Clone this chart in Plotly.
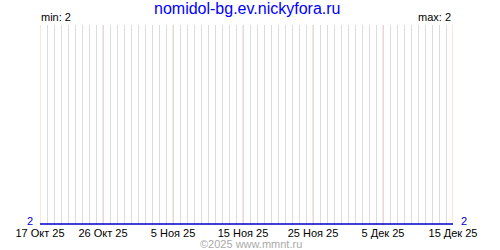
import plotly.graph_objects as go
import pandas as pd

# ---- data ----
dates = pd.date_range("2025-10-17", "2025-12-15", freq="D").strftime("%Y-%m-%d").tolist()
values = [2, 2, 2, 2, 2, 2, 2, 2, 2, 2,
          2, 2, 2, 2, 2, 2, 2, 2, 2, 2,
          2, 2, 2, 2, 2, 2, 2, 2, 2, 2,
          2, 2, 2, 2, 2, 2, 2, 2, 2, 2,
          2, 2, 2, 2, 2, 2, 2, 2, 2, 2,
          2, 2, 2, 2, 2, 2, 2, 2, 2, 2]
tick_dates = ["2025-10-17", "2025-10-26", "2025-11-05", "2025-11-15",
              "2025-11-25", "2025-12-05", "2025-12-15"]
tick_labels = ["17 Окт 25", "26 Окт 25", "5 Ноя 25", "15 Ноя 25",
               "25 Ноя 25", "5 Дек 25", "15 Дек 25"]
title_text = "nomidol-bg.ev.nickyfora.ru"
credit_text = "©2025 www.mmnt.ru"

vmin, vmax = min(values), max(values)

FONT = "Liberation Sans"
PINK = "#ffc8c8"
GRAY = "#dcdcdc"
BLUE = "#0000cc"

fig = go.Figure()
fig.add_trace(go.Scatter(x=dates, y=values, mode="lines",
                         line=dict(color=BLUE, width=1.5),
                         hoverinfo="skip", showlegend=False))

# pink grid lines at the labelled dates (drawn above the daily gray grid)
for d in tick_dates:
    fig.add_shape(type="line", xref="x", yref="paper", x0=d, x1=d, y0=0, y1=1,
                  line=dict(color=PINK, width=1), layer="below")

fig.update_layout(
    width=500, height=250,
    margin=dict(l=40, r=47, t=25, b=25),
    paper_bgcolor="white", plot_bgcolor="white",
    font=dict(family=FONT, size=11, color="black"),
    xaxis=dict(
        type="date",
        range=[tick_dates[0], tick_dates[-1]],
        tickvals=tick_dates, ticktext=tick_labels,
        showgrid=False,
        ticks="", zeroline=False, showline=False,
        tickfont=dict(family=FONT, size=11, color="black"),
        minor=dict(dtick=86400000, showgrid=True, gridcolor=GRAY, gridwidth=1),
    ),
    yaxis=dict(
        range=[vmin - 0.005, vmin + 1],
        tickvals=[vmin + 1], showticklabels=False,
        showgrid=True, gridcolor=GRAY, zeroline=False, showline=False,
        fixedrange=True,
    ),
    annotations=[
        dict(text=title_text, xref="paper", yref="paper", x=0.5, y=1,
             xanchor="center", yanchor="bottom", yshift=6, showarrow=False,
             font=dict(family=FONT, size=16, color="#0000ff")),
        dict(text=f"min: {vmin}", xref="paper", yref="paper", x=0, y=1,
             xanchor="left", yanchor="bottom", yshift=0, xshift=-1, showarrow=False,
             font=dict(family=FONT, size=11, color="black")),
        dict(text=f"max: {vmax}", xref="paper", yref="paper", x=1, y=1,
             xanchor="right", yanchor="bottom", yshift=0, showarrow=False,
             font=dict(family=FONT, size=11, color="black")),
        dict(text=str(values[0]), xref="paper", yref="y", x=0, y=values[0],
             xanchor="right", yanchor="middle", xshift=-5, yshift=3, showarrow=False,
             font=dict(family=FONT, size=11, color=BLUE)),
        dict(text=str(values[-1]), xref="paper", yref="y", x=1, y=values[-1],
             xanchor="left", yanchor="middle", xshift=6, yshift=3, showarrow=False,
             font=dict(family=FONT, size=11, color=BLUE)),
        dict(text=credit_text, xref="paper", yref="paper", x=0.5, y=0,
             xanchor="center", yanchor="top", yshift=-11, xshift=4, showarrow=False,
             font=dict(family=FONT, size=11, color="#aaaaaa")),
    ],
)

fig.write_html("out.html", config={"displayModeBar": False})
